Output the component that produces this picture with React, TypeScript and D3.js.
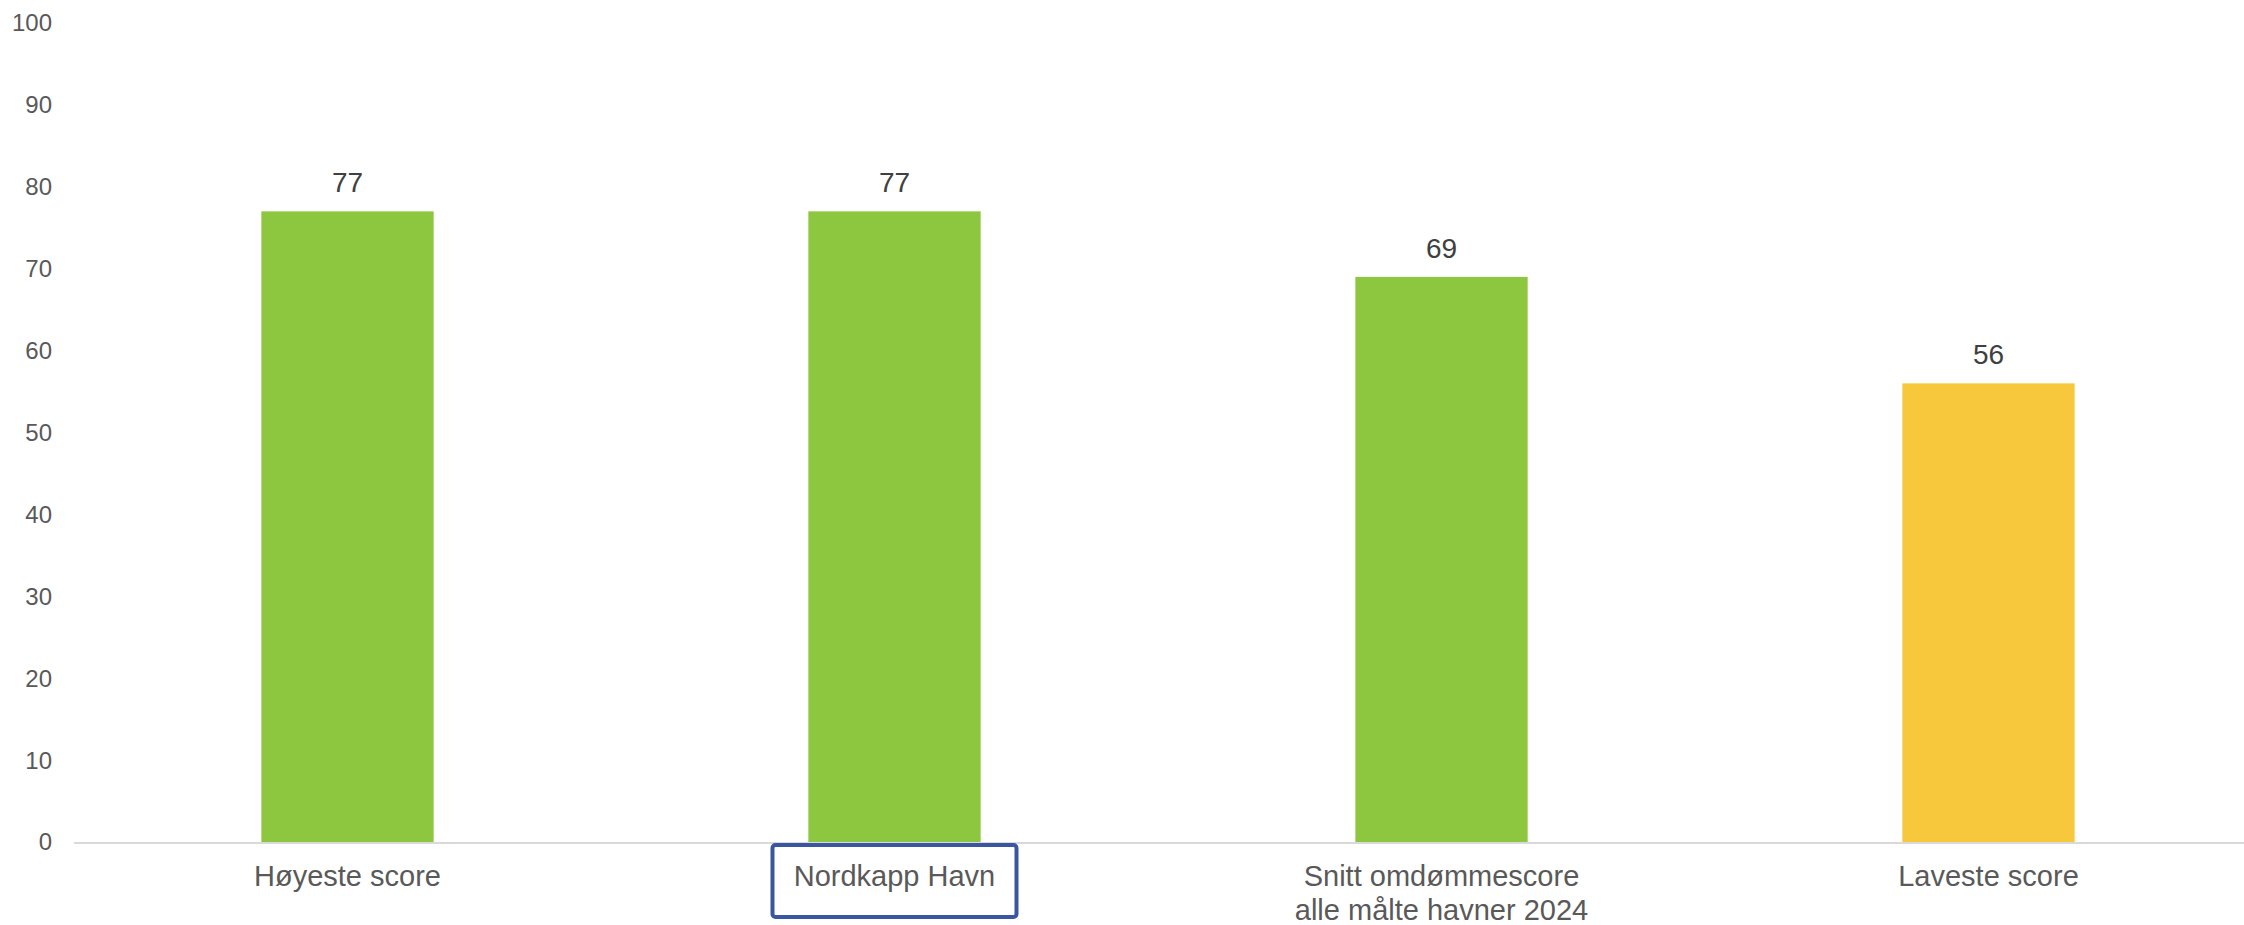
import React, { useRef, useEffect } from 'react';
import * as d3 from 'd3';

const categories = ['Høyeste score', 'Nordkapp Havn', 'Snitt omdømmescore\nalle målte havner 2024', 'Laveste score'];
const scores = [77, 77, 69, 56];
const barColors = ['#8DC63F', '#8DC63F', '#8DC63F', '#F8C83C'];
const yTicks = [0, 10, 20, 30, 40, 50, 60, 70, 80, 90, 100];
const highlighted = 'Nordkapp Havn';

const App: React.FC = () => {
  const svgRef = useRef<SVGSVGElement>(null);

  useEffect(() => {
    if (!svgRef.current) return;
    const svg = d3.select(svgRef.current);
    svg.selectAll('*').remove();

    const W = 2244;
    const H = 925;
    const margin = { top: 23, right: 0, bottom: 83, left: 74 };
    const width = W - margin.left - margin.right;
    const height = H - margin.top - margin.bottom;
    const font = 'Arial, "Liberation Sans", sans-serif';

    const g = svg.append('g').attr('transform', `translate(${margin.left},${margin.top})`);

    // category step is a bit wider than the visible plot (last band runs off the edge)
    const x = d3.scaleBand<string>().domain(categories).range([0, 4 * 547]).paddingInner(0.685).paddingOuter(0.3425);
    const y = d3.scaleLinear().domain([0, 100]).range([height, 0]);

    // y tick labels
    g.append('g')
      .selectAll('text')
      .data(yTicks)
      .join('text')
      .attr('x', -22)
      .attr('y', (d) => y(d))
      .attr('dy', '0.35em')
      .attr('text-anchor', 'end')
      .style('font-family', font)
      .style('font-size', '24px')
      .style('fill', '#595959')
      .text((d) => d);

    // bars
    g.selectAll('.bar')
      .data(scores)
      .join('rect')
      .attr('class', 'bar')
      .attr('x', (_, i) => x(categories[i])!)
      .attr('y', (d) => y(d))
      .attr('width', x.bandwidth())
      .attr('height', (d) => height - y(d))
      .attr('fill', (_, i) => barColors[i]);

    // baseline
    g.append('line')
      .attr('x1', 0)
      .attr('x2', width)
      .attr('y1', height + 1)
      .attr('y2', height + 1)
      .attr('stroke', '#D9D9D9')
      .attr('stroke-width', 2);

    // value labels
    g.selectAll('.value')
      .data(scores)
      .join('text')
      .attr('class', 'value')
      .attr('x', (_, i) => x(categories[i])! + x.bandwidth() / 2)
      .attr('y', (d) => y(d) - 19)
      .attr('text-anchor', 'middle')
      .style('font-family', font)
      .style('font-size', '28px')
      .style('fill', '#404040')
      .text((d) => d);

    // category labels
    categories.forEach((c) => {
      const cx = x(c)! + x.bandwidth() / 2;
      const lines = c.split('\n');
      const t = g.append('text')
        .attr('x', cx)
        .attr('y', height + 44)
        .attr('text-anchor', 'middle')
        .style('font-family', font)
        .style('font-size', '29px')
        .style('fill', '#595959');
      lines.forEach((l, j) => {
        t.append('tspan').attr('x', cx).attr('dy', j === 0 ? 0 : 34).text(l);
      });
      if (c === highlighted) {
        g.append('rect')
          .attr('x', cx - 122)
          .attr('y', height + 3)
          .attr('width', 244)
          .attr('height', 72)
          .attr('rx', 3)
          .attr('fill', 'none')
          .attr('stroke', '#3A56A0')
          .attr('stroke-width', 4);
      }
    });
  }, []);

  return (
    <svg
      ref={svgRef}
      width={2244}
      height={925}
      style={{ position: 'absolute', left: 0, top: 0, background: '#fff' }}
    />
  );
};

export default App;
